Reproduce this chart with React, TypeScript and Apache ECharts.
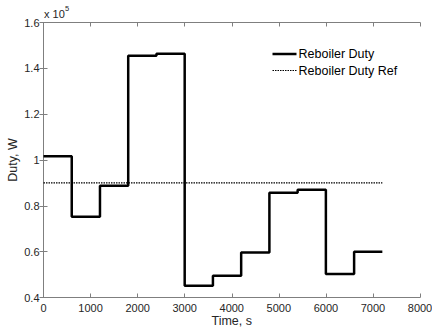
import React, { useEffect, useRef } from "react";
import * as echarts from "echarts";

// Time (s) at which each duty level starts; last point closes the final step
const times = [0, 600, 1200, 1800, 2400, 3000, 3600, 4200, 4800, 5400, 6000, 6600, 7200];
// Reboiler duty (x 10^5 W)
const dutyValues = [1.016, 0.752, 0.888, 1.455, 1.464, 0.451, 0.495, 0.596, 0.857, 0.87, 0.503, 0.6, 0.6];
// Reference duty (x 10^5 W)
const refTimes = [0, 7200];
const refValues = [0.9, 0.9];

const xTicks = [0, 1000, 2000, 3000, 4000, 5000, 6000, 7000, 8000];
const yTicks = [0.4, 0.6, 0.8, 1, 1.2, 1.4, 1.6];
const seriesNames = ["Reboiler Duty", "Reboiler Duty Ref"];

const FONT = "Liberation Sans, Arial, sans-serif";
const AXIS_COLOR = "#7f7f7f";
const TEXT_COLOR = "#262626";

export default function App() {
  const ref = useRef<HTMLDivElement>(null);

  useEffect(() => {
    if (!ref.current) return;
    const chart = echarts.init(ref.current, null, { renderer: "svg" });
    const dutyData = times.map((t, i) => [t, dutyValues[i]]);
    const refData = refTimes.map((t, i) => [t, refValues[i]]);
    const gridLeft = 43.5;
    const gridTop = 22.5;
    const gridRight = 12;
    const gridBottom = 33.5;
    const axisCommon = {
      axisLine: { show: true, lineStyle: { color: AXIS_COLOR, width: 1 } },
      axisTick: { show: true, inside: true, length: 4, lineStyle: { color: AXIS_COLOR } },
      splitLine: { show: false },
    };
    const legendX = 272.5;
    const legendY = [54, 70.5];
    const dotted = [1.5, 1];
    chart.setOption({
      animation: false,
      backgroundColor: "#ffffff",
      grid: {
        left: gridLeft,
        right: gridRight,
        top: gridTop,
        bottom: gridBottom,
        containLabel: false,
        outerBoundsMode: "none",
      },
      xAxis: [
        {
          type: "value",
          min: xTicks[0],
          max: xTicks[xTicks.length - 1],
          interval: 1000,
          position: "bottom",
          ...axisCommon,
          axisLabel: {
            color: TEXT_COLOR,
            fontSize: 11,
            fontFamily: FONT,
            margin: 5,
            formatter: (v: number) => String(v),
          },
          name: "Time, s",
          nameLocation: "middle",
          nameGap: 17,
          nameMoveOverlap: false,
          nameTextStyle: { color: TEXT_COLOR, fontSize: 12.5, fontFamily: FONT },
        },
        {
          type: "value",
          min: xTicks[0],
          max: xTicks[xTicks.length - 1],
          interval: 1000,
          position: "top",
          ...axisCommon,
          axisLabel: { show: false },
        },
      ],
      yAxis: [
        {
          type: "value",
          min: yTicks[0],
          max: yTicks[yTicks.length - 1],
          interval: 0.2,
          position: "left",
          ...axisCommon,
          axisLabel: {
            color: TEXT_COLOR,
            fontSize: 11,
            fontFamily: FONT,
            margin: 4,
            formatter: (v: number) => String(Math.round(v * 10) / 10),
          },
          name: "Duty, W",
          nameLocation: "middle",
          nameGap: 24,
          nameRotate: 90,
          nameMoveOverlap: false,
          nameTextStyle: { color: TEXT_COLOR, fontSize: 12.5, fontFamily: FONT },
        },
        {
          type: "value",
          min: yTicks[0],
          max: yTicks[yTicks.length - 1],
          interval: 0.2,
          position: "right",
          ...axisCommon,
          axisLabel: { show: false },
        },
      ],
      graphic: [
        {
          type: "text",
          x: 44,
          y: 8,
          style: { text: "x 10", fontSize: 11, fontFamily: FONT, fill: TEXT_COLOR },
        },
        {
          type: "text",
          x: 65,
          y: 4.5,
          style: { text: "5", fontSize: 7.5, fontFamily: FONT, fill: TEXT_COLOR },
        },
        {
          type: "line",
          shape: { x1: legendX, y1: legendY[0], x2: legendX + 24, y2: legendY[0] },
          style: { stroke: "#000", lineWidth: 2.5 },
        },
        {
          type: "line",
          shape: { x1: legendX, y1: legendY[1], x2: legendX + 24, y2: legendY[1] },
          style: { stroke: "#000", lineWidth: 1.2, lineDash: dotted },
        },
        {
          type: "text",
          x: legendX + 26,
          y: legendY[0],
          style: {
            text: seriesNames[0],
            fontSize: 12.5,
            fontFamily: FONT,
            fill: "#000",
            verticalAlign: "middle",
          },
        },
        {
          type: "text",
          x: legendX + 26,
          y: legendY[1],
          style: {
            text: seriesNames[1],
            fontSize: 12.5,
            fontFamily: FONT,
            fill: "#000",
            verticalAlign: "middle",
          },
        },
      ],
      series: [
        {
          name: seriesNames[0],
          type: "line",
          step: "end",
          data: dutyData,
          symbol: "none",
          lineStyle: { color: "#000", width: 2.5 },
          itemStyle: { color: "#000" },
          xAxisIndex: 0,
          yAxisIndex: 0,
        },
        {
          name: seriesNames[1],
          type: "line",
          data: refData,
          symbol: "none",
          lineStyle: { color: "#000", width: 1.2, type: dotted },
          itemStyle: { color: "#000" },
          xAxisIndex: 0,
          yAxisIndex: 0,
        },
      ],
    });
    return () => chart.dispose();
  }, []);

  return (
    <div
      ref={ref}
      style={{ position: "fixed", left: 0, top: 0, width: 432, height: 331 }}
    />
  );
}
